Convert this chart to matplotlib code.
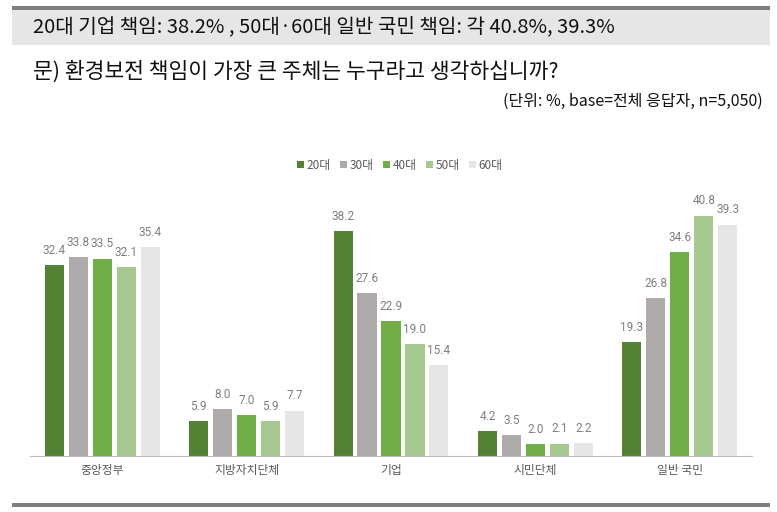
import matplotlib.pyplot as plt
import numpy as np
from matplotlib.patches import Rectangle

plt.rcParams['font.family'] = ['Noto Sans CJK KR', 'DejaVu Sans']

categories = ['중앙정부', '지방자치단체', '기업', '시민단체', '일반 국민']
ages = ['20대', '30대', '40대', '50대', '60대']
v20 = [32.4, 5.9, 38.2, 4.2, 19.3]
v30 = [33.8, 8.0, 27.6, 3.5, 26.8]
v40 = [33.5, 7.0, 22.9, 2.0, 34.6]
v50 = [32.1, 5.9, 19.0, 2.1, 40.8]
v60 = [35.4, 7.7, 15.4, 2.2, 39.3]
series = [v20, v30, v40, v50, v60]
colors = ['#548235', '#AEAAAA', '#70AD47', '#A6C98F', '#E7E6E6']

W, H = 777, 512
fig = plt.figure(figsize=(W / 100, H / 100), dpi=100)

def fy(y):
    return 1 - y / H

# header band and rules
fig.patches.append(Rectangle((12 / W, fy(45)), 758 / W, 37 / H, transform=fig.transFigure,
                             facecolor='#E6E6E6', edgecolor='none'))
fig.patches.append(Rectangle((12 / W, fy(10)), 758 / W, 4 / H, transform=fig.transFigure,
                             facecolor='#7F7F7F', edgecolor='none'))
fig.patches.append(Rectangle((12 / W, fy(507)), 758 / W, 4 / H, transform=fig.transFigure,
                             facecolor='#7F7F7F', edgecolor='none'))

fig.text(33 / W, fy(27), '20대 기업 책임: 38.2% , 50대·60대 일반 국민 책임: 각 40.8%, 39.3%',
         fontsize=14.5, va='center', ha='left', color='#111111')
fig.text(33 / W, fy(72), '문) 환경보전 책임이 가장 큰 주체는 누구라고 생각하십니까?',
         fontsize=15.5, va='center', ha='left', color='#111111')
fig.text(763 / W, fy(101), '(단위: %, base=전체 응답자, n=5,050)',
         fontsize=11.5, va='center', ha='right', color='#111111')

# plot area: baseline at y=456, 5.89 px per unit
ax_top = 200
ymax = (456 - ax_top) / 5.89
ax = fig.add_axes([30 / W, fy(456), 722 / W, (456 - ax_top) / H])
x = np.arange(len(categories))
pitch = 0.166
width = 0.132
for i, (vals, c, lab) in enumerate(zip(series, colors, ages)):
    pos = x + (i - 2) * pitch
    bars = ax.bar(pos, vals, width, color=c, label=lab)
    for b, v in zip(bars, vals):
        ax.text(b.get_x() + b.get_width() / 2, v + 1.4, f'{v:.1f}', ha='center', va='bottom',
                fontsize=8.5, color='#7F7F7F', family=['Roboto', 'DejaVu Sans'])

ax.set_xlim(-0.5, len(categories) - 0.5)
ax.set_ylim(0, ymax)
ax.set_yticks([])
ax.set_xticks(x)
ax.set_xticklabels(categories, fontsize=8.5, color='#595959')
ax.tick_params(axis='x', length=0, pad=6)
for s in ['top', 'right', 'left']:
    ax.spines[s].set_visible(False)
ax.spines['bottom'].set_color('#BFBFBF')
ax.patch.set_alpha(0)

handles, labels = ax.get_legend_handles_labels()
fig.legend(handles, labels, loc='center', bbox_to_anchor=(400 / W, fy(165)), ncol=5,
           frameon=False, fontsize=8.5, handlelength=0.6, handleheight=0.6,
           handletextpad=0.2, columnspacing=0.8, labelcolor='#595959')

fig.savefig('out.png', dpi=100)
